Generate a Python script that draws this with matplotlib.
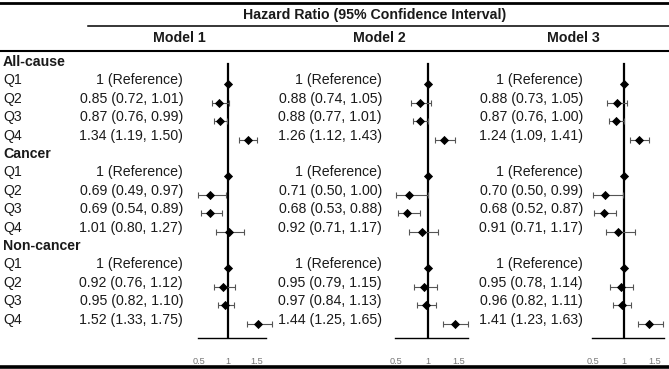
import matplotlib.pyplot as plt

plt.rcParams['font.family'] = ['Liberation Sans', 'DejaVu Sans']

groups = ['All-cause', 'Cancer', 'Non-cancer']
quartiles = ['Q1', 'Q2', 'Q3', 'Q4']
models = ['Model 1', 'Model 2', 'Model 3']

# hazard ratios, lower and upper limits, per model, rows = groups x quartiles
hr = [
    [1, 0.85, 0.87, 1.34, 1, 0.69, 0.69, 1.01, 1, 0.92, 0.95, 1.52],
    [1, 0.88, 0.88, 1.26, 1, 0.71, 0.68, 0.92, 1, 0.95, 0.97, 1.44],
    [1, 0.88, 0.87, 1.24, 1, 0.70, 0.68, 0.91, 1, 0.95, 0.96, 1.41],
]
lo = [
    [1, 0.72, 0.76, 1.19, 1, 0.49, 0.54, 0.80, 1, 0.76, 0.82, 1.33],
    [1, 0.74, 0.77, 1.12, 1, 0.50, 0.53, 0.71, 1, 0.79, 0.84, 1.25],
    [1, 0.73, 0.76, 1.09, 1, 0.50, 0.52, 0.71, 1, 0.78, 0.82, 1.23],
]
hi = [
    [1, 1.01, 0.99, 1.50, 1, 0.97, 0.89, 1.27, 1, 1.12, 1.10, 1.75],
    [1, 1.05, 1.01, 1.43, 1, 1.00, 0.88, 1.17, 1, 1.15, 1.13, 1.65],
    [1, 1.05, 1.00, 1.41, 1, 0.99, 0.87, 1.17, 1, 1.14, 1.11, 1.63],
]
ticks = [0.5, 1, 1.5]

W, H = 669, 369
fig = plt.figure(figsize=(W / 100, H / 100), dpi=100)


def fx(x):
    return x / W


def fy(y):
    return 1 - y / H


def hline(y, x0, x1, lw):
    fig.add_artist(plt.Line2D([fx(x0), fx(x1)], [fy(y), fy(y)], color='black', lw=lw))


col = '#1a1a1a'
fs = 10.2
row0, step = 62, 18.4

# rules
hline(3, 0, W, 2.0)
hline(26, 88, W, 1.1)
hline(51, 0, W, 1.5)
hline(367, 0, W, 2.6)

fig.text(fx(375), fy(15), 'Hazard Ratio (95% Confidence Interval)', ha='center', va='center',
         fontsize=fs, fontweight='bold', color=col)

text_right = [183, 382, 583]
head_x = [179, 379, 573]
tick_px = [(199, 257), (396, 459), (593, 655)]

# row labels
r = 0
row_y = []
for g in groups:
    fig.text(fx(3), fy(row0 + step * r), g, ha='left', va='center', fontsize=fs,
             fontweight='bold', color=col)
    r += 1
    for q in quartiles:
        fig.text(fx(3), fy(row0 + step * r), q, ha='left', va='center', fontsize=fs, color=col)
        row_y.append(row0 + step * r)
        r += 1

for m in range(3):
    fig.text(fx(head_x[m]), fy(38), models[m], ha='center', va='center', fontsize=fs,
             fontweight='bold', color=col)
    for i, y in enumerate(row_y):
        if i % 4 == 0:
            s = '1 (Reference)'
        else:
            s = f'{hr[m][i]:.2f} ({lo[m][i]:.2f}, {hi[m][i]:.2f})'
        fig.text(fx(text_right[m]), fy(y), s, ha='right', va='center', fontsize=fs, color=col)

    # forest panel: x in data units, y in pixels
    p05, p15 = tick_px[m]
    k = p15 - p05
    xmin, xmax = 0.3, 1.9
    left = p05 + (xmin - 0.5) * k
    right = p05 + (xmax - 0.5) * k
    top, bottom = 60, 338
    ax = fig.add_axes([fx(left), fy(bottom), fx(right - left), (bottom - top) / H])
    ax.set_xlim(xmin, xmax)
    ax.set_ylim(bottom, top)
    ax.axvline(1, ymin=0, ymax=(bottom - 64) / (bottom - top), color='black', lw=1.6, zorder=1)
    ys = [y + 4 for y in row_y]
    errs = [[hr[m][i] - lo[m][i] for i in range(12)], [hi[m][i] - hr[m][i] for i in range(12)]]
    ax.errorbar(hr[m], ys, xerr=errs, fmt='none', ecolor='#555555', elinewidth=0.8,
                capsize=2, capthick=0.8, zorder=2)
    ax.scatter(hr[m], ys, marker='D', s=22, color='black', zorder=3, linewidths=0)
    for sp in ['top', 'right', 'left']:
        ax.spines[sp].set_visible(False)
    ax.spines['bottom'].set_bounds(0.49, 1.65)
    ax.spines['bottom'].set_linewidth(1.0)
    ax.set_yticks([])
    ax.set_xticks(ticks)
    ax.set_xticklabels(['0.5', '1', '1.5'])
    ax.tick_params(axis='x', length=0, pad=14, labelsize=6.6, labelcolor='#777777')
    ax.patch.set_alpha(0)

fig.savefig('out.png', dpi=100)
